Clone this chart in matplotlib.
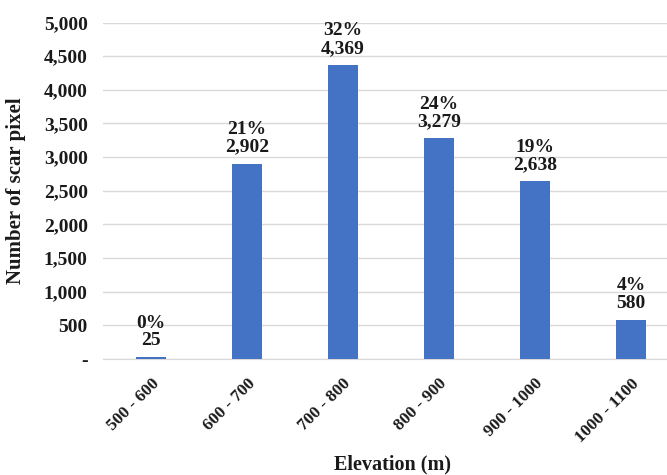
import matplotlib
matplotlib.use("Agg")
import matplotlib.pyplot as plt

# data
categories = ["500 - 600", "600 - 700", "700 - 800", "800 - 900", "900 - 1000", "1000 - 1100"]
pixels = [25, 2902, 4369, 3279, 2638, 580]
percents = ["0%", "21%", "32%", "24%", "19%", "4%"]
yticks = [0, 500, 1000, 1500, 2000, 2500, 3000, 3500, 4000, 4500, 5000]

plt.rcParams['font.family'] = ['Liberation Serif', 'DejaVu Serif']
plt.rcParams['font.weight'] = 'bold'

fig = plt.figure(figsize=(6.67, 4.75), dpi=100)
ax = fig.add_axes([0.1545, 0.2442, 0.8455, 0.7084])

x = list(range(len(categories)))
ax.bar(x, pixels, width=0.31, color="#4472C4", zorder=3)

for i in x:
    ax.text(i, pixels[i] + 120, percents[i] + "\n" + format(pixels[i], ","),
            ha="center", va="bottom", fontsize=14, fontweight="bold",
            linespacing=1.05, color="#1a1a1a")

ax.set_xlim(-0.5, 5.375)
ax.set_ylim(0, 5000)
ax.set_yticks(yticks)
ax.set_yticklabels(["-"] + [format(v, ",") for v in yticks[1:]])
ax.set_xticks(x)
ax.set_xticklabels(categories, rotation=45, ha="right", rotation_mode="anchor")

ax.grid(axis="y", color="#d9d9d9", linewidth=1, zorder=0)
for s in ["top", "right", "left"]:
    ax.spines[s].set_visible(False)
ax.spines["bottom"].set_color("#d9d9d9")
ax.tick_params(axis="y", length=0, labelsize=14, colors="#1a1a1a", pad=11)
ax.tick_params(axis="x", length=0, labelsize=12.5, colors="#1a1a1a", pad=12)

ax.set_ylabel("Number of scar pixel", fontsize=15, fontweight="bold", color="#1a1a1a")
ax.set_xlabel("Elevation (m)", fontsize=14.5, fontweight="bold", color="#1a1a1a")
ax.yaxis.set_label_coords(-0.137, 0.5)
ax.xaxis.set_label_coords(0.514, -0.283)

fig.savefig("out.png", dpi=100)
